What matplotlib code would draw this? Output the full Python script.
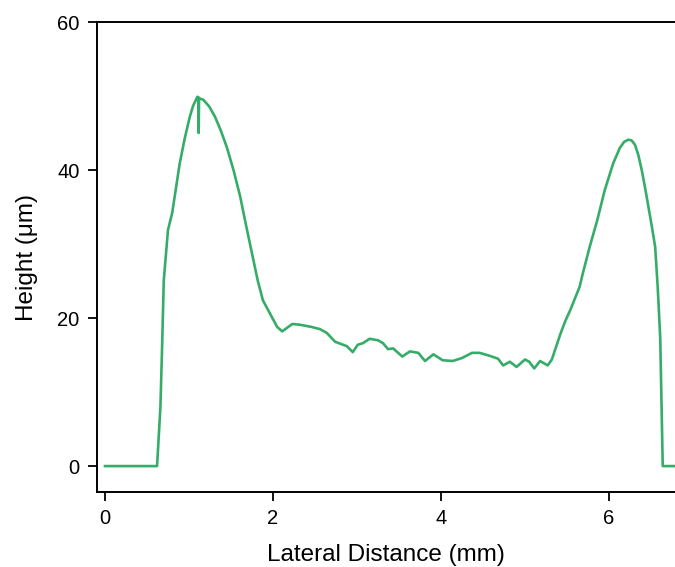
import matplotlib
matplotlib.use('Agg')
import matplotlib.pyplot as plt

plt.rcParams['font.family'] = ['Liberation Sans', 'DejaVu Sans']

# lateral distance (mm) and height (um)
dist = [0.0, 0.3, 0.62, 0.66, 0.68, 0.70, 0.75, 0.80, 0.89, 0.95, 1.01, 1.05, 1.10,
        1.115, 1.115, 1.12, 1.17, 1.24, 1.31, 1.38, 1.45, 1.53, 1.61, 1.68, 1.76,
        1.82, 1.88, 1.96, 2.05, 2.11, 2.17, 2.23, 2.32,
        2.46, 2.56, 2.64, 2.74, 2.88, 2.95, 3.01, 3.07, 3.15, 3.25, 3.31, 3.37,
        3.43, 3.54, 3.63, 3.73, 3.81, 3.91, 4.02, 4.14, 4.25, 4.37, 4.46, 4.58,
        4.68, 4.74, 4.82, 4.90, 5.00, 5.05, 5.11, 5.18, 5.27, 5.32, 5.42, 5.48, 5.54,
        5.65, 5.69, 5.77, 5.86, 5.95, 6.05, 6.13, 6.18, 6.23, 6.27, 6.31, 6.35, 6.39,
        6.43, 6.47, 6.51, 6.55, 6.58, 6.61, 6.64, 6.79]
height = [0.0, 0.0, 0.0, 8.0, 16.1, 25.1, 31.9, 34.2, 40.9, 44.3, 47.2, 48.7, 49.9,
          49.8, 45.0, 49.7, 49.5, 48.6, 47.2, 45.3, 43.1, 40.0, 36.4, 32.5, 28.2,
          25.0, 22.4, 20.7, 18.8, 18.2, 18.7, 19.2, 19.1,
          18.8, 18.5, 18.0, 16.8, 16.2, 15.4, 16.4, 16.6, 17.2, 17.0, 16.6, 15.8,
          15.9, 14.8, 15.5, 15.3, 14.2, 15.1, 14.3, 14.2, 14.6, 15.3, 15.3, 14.9,
          14.5, 13.6, 14.1, 13.4, 14.4, 14.1, 13.2, 14.2, 13.6, 14.4, 17.8, 19.6, 21.1,
          24.2, 26.1, 29.6, 33.2, 37.3, 40.9, 43.0, 43.8, 44.1, 44.0, 43.4, 42.0, 40.0,
          37.6, 35.0, 32.4, 29.6, 24.2, 17.4, 0.0, 0.0]

xticks = [0, 2, 4, 6]
yticks = [0, 20, 40, 60]

fig = plt.figure(figsize=(6.75, 5.67), dpi=100)
ax = fig.add_axes([97 / 675, 75 / 567, 578 / 675, 470 / 567])

ax.plot(dist, height, color='#35ad68', lw=1.9)

ax.set_xlim(-0.095, 6.786)
ax.set_ylim(-3.5, 60)
ax.set_xticks(xticks)
ax.set_yticks(yticks)
ax.tick_params(direction='out', length=6.5, width=1.3, labelsize=14.5, pad=6)
for s in ['left', 'bottom', 'top']:
    ax.spines[s].set_linewidth(1.4)
ax.spines['right'].set_visible(False)

ax.set_xlabel('Lateral Distance (mm)', fontsize=17.5, labelpad=11)
ax.set_ylabel('Height (\u03bcm)', fontsize=17.5, labelpad=14)

fig.savefig('out.png', dpi=100)
